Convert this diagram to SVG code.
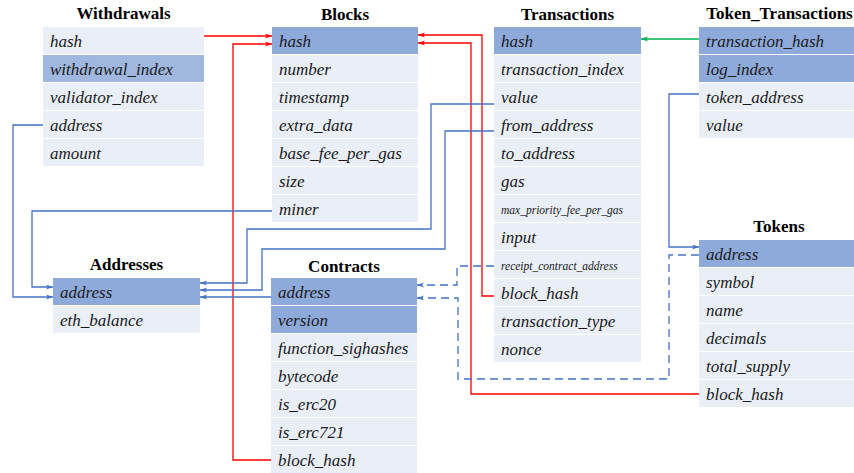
<svg xmlns="http://www.w3.org/2000/svg" width="854" height="473" viewBox="0 0 854 473">
<style>
.bg{fill:#ffffff}
.r{fill:#E9EEF7}
.k{fill:#8EAADB}
.k2{fill:#A0B7E0}
.t{font-family:'Liberation Serif','Times New Roman',serif;font-style:italic;font-size:17px;fill:#1a1a1a}
.s{font-size:11.5px}
.h{font-family:'Liberation Serif','Times New Roman',serif;font-weight:bold;font-size:17px;fill:#000;text-anchor:middle}
.red{fill:none;stroke:#FF0000;stroke-width:1.3}
.blu{fill:none;stroke:#4472C4;stroke-width:1.3}
.grn{fill:none;stroke:#00B050;stroke-width:1.3}
.dash{stroke-dasharray:8 5}
</style>
<defs>
<marker id="aR" markerUnits="userSpaceOnUse" markerWidth="8" markerHeight="6" refX="7" refY="2.5" orient="auto"><path d="M0,0 L7,2.5 L0,5 L1.8,2.5 z" fill="#FF0000"/></marker>
<marker id="aB" markerUnits="userSpaceOnUse" markerWidth="8" markerHeight="6" refX="7" refY="2.5" orient="auto"><path d="M0,0 L7,2.5 L0,5 L1.8,2.5 z" fill="#4472C4"/></marker>
<marker id="aG" markerUnits="userSpaceOnUse" markerWidth="8" markerHeight="6" refX="7" refY="2.5" orient="auto"><path d="M0,0 L7,2.5 L0,5 L1.8,2.5 z" fill="#00B050"/></marker>
</defs>
<rect class="bg" x="0" y="0" width="854" height="473"/>

<g id="withdrawals">
<text class="h" x="123.5" y="19">Withdrawals</text>
<rect class="r" x="43" y="27" width="161" height="27"/>
<rect class="k2" x="43" y="55" width="161" height="27"/>
<rect class="r" x="43" y="83" width="161" height="27"/>
<rect class="r" x="43" y="111" width="161" height="27"/>
<rect class="r" x="43" y="139" width="161" height="27"/>
<text class="t" x="50" y="46.5">hash</text>
<text class="t" x="50" y="74.5">withdrawal_index</text>
<text class="t" x="50" y="102.5">validator_index</text>
<text class="t" x="50" y="130.5">address</text>
<text class="t" x="50" y="158.5">amount</text>
</g>

<g id="blocks">
<text class="h" x="345" y="20">Blocks</text>
<rect class="k" x="272" y="27" width="146" height="27"/>
<rect class="r" x="272" y="55" width="146" height="27"/>
<rect class="r" x="272" y="83" width="146" height="27"/>
<rect class="r" x="272" y="111" width="146" height="27"/>
<rect class="r" x="272" y="139" width="146" height="27"/>
<rect class="r" x="272" y="167" width="146" height="27"/>
<rect class="r" x="272" y="195" width="146" height="27"/>
<text class="t" x="279" y="46.5">hash</text>
<text class="t" x="279" y="74.5">number</text>
<text class="t" x="279" y="102.5">timestamp</text>
<text class="t" x="279" y="130.5">extra_data</text>
<text class="t" x="279" y="158.5">base_fee_per_gas</text>
<text class="t" x="279" y="186.5">size</text>
<text class="t" x="279" y="214.5">miner</text>
</g>

<g id="transactions">
<text class="h" x="567.5" y="20">Transactions</text>
<rect class="k" x="494" y="27" width="147" height="27"/>
<rect class="r" x="494" y="55" width="147" height="27"/>
<rect class="r" x="494" y="83" width="147" height="27"/>
<rect class="r" x="494" y="111" width="147" height="27"/>
<rect class="r" x="494" y="139" width="147" height="27"/>
<rect class="r" x="494" y="167" width="147" height="27"/>
<rect class="r" x="494" y="195" width="147" height="27"/>
<rect class="r" x="494" y="223" width="147" height="27"/>
<rect class="r" x="494" y="251" width="147" height="27"/>
<rect class="r" x="494" y="279" width="147" height="27"/>
<rect class="r" x="494" y="307" width="147" height="27"/>
<rect class="r" x="494" y="335" width="147" height="27"/>
<text class="t" x="501" y="46.5">hash</text>
<text class="t" x="501" y="74.5">transaction_index</text>
<text class="t" x="501" y="102.5">value</text>
<text class="t" x="501" y="130.5">from_address</text>
<text class="t" x="501" y="158.5">to_address</text>
<text class="t" x="501" y="186.5">gas</text>
<text class="t s" x="501" y="213.5">max_priority_fee_per_gas</text>
<text class="t" x="501" y="242.5">input</text>
<text class="t s" x="501" y="269.5">receipt_contract_address</text>
<text class="t" x="501" y="298.5">block_hash</text>
<text class="t" x="501" y="326.5">transaction_type</text>
<text class="t" x="501" y="354.5">nonce</text>
</g>

<g id="token_transactions">
<text class="h" x="779.5" y="19">Token_Transactions</text>
<rect class="k" x="699" y="27" width="161" height="27"/>
<rect class="k" x="699" y="55" width="161" height="27"/>
<rect class="r" x="699" y="83" width="161" height="27"/>
<rect class="r" x="699" y="111" width="161" height="27"/>
<text class="t" x="706" y="46.5">transaction_hash</text>
<text class="t" x="706" y="74.5">log_index</text>
<text class="t" x="706" y="102.5">token_address</text>
<text class="t" x="706" y="130.5">value</text>
</g>

<g id="tokens">
<text class="h" x="779" y="232">Tokens</text>
<rect class="k" x="699" y="240" width="161" height="27"/>
<rect class="r" x="699" y="268" width="161" height="27"/>
<rect class="r" x="699" y="296" width="161" height="27"/>
<rect class="r" x="699" y="324" width="161" height="27"/>
<rect class="r" x="699" y="352" width="161" height="27"/>
<rect class="r" x="699" y="380" width="161" height="27"/>
<text class="t" x="706" y="259.5">address</text>
<text class="t" x="706" y="287.5">symbol</text>
<text class="t" x="706" y="315.5">name</text>
<text class="t" x="706" y="343.5">decimals</text>
<text class="t" x="706" y="371.5">total_supply</text>
<text class="t" x="706" y="399.5">block_hash</text>
</g>

<g id="addresses">
<text class="h" x="126.5" y="270">Addresses</text>
<rect class="k" x="53" y="278" width="147" height="27"/>
<rect class="r" x="53" y="306" width="147" height="27"/>
<text class="t" x="60" y="297.5">address</text>
<text class="t" x="60" y="325.5">eth_balance</text>
</g>

<g id="contracts">
<text class="h" x="344" y="272">Contracts</text>
<rect class="k" x="271" y="278" width="146" height="27"/>
<rect class="k" x="271" y="306" width="146" height="27"/>
<rect class="r" x="271" y="334" width="146" height="27"/>
<rect class="r" x="271" y="362" width="146" height="27"/>
<rect class="r" x="271" y="390" width="146" height="27"/>
<rect class="r" x="271" y="418" width="146" height="27"/>
<rect class="r" x="271" y="446" width="146" height="27"/>
<text class="t" x="278" y="297.5">address</text>
<text class="t" x="278" y="325.5">version</text>
<text class="t" x="278" y="353.5">function_sighashes</text>
<text class="t" x="278" y="381.5">bytecode</text>
<text class="t" x="278" y="409.5">is_erc20</text>
<text class="t" x="278" y="437.5">is_erc721</text>
<text class="t" x="278" y="465.5">block_hash</text>
</g>

<g id="connectors">
<path class="red" d="M204,36 H272" marker-end="url(#aR)"/>
<path class="red" d="M271,460 H233 V44 H272" marker-end="url(#aR)"/>
<path class="red" d="M494,296 H482 V35 H418" marker-end="url(#aR)"/>
<path class="red" d="M699,394 H471 V43 H418" marker-end="url(#aR)"/>
<path class="grn" d="M699,39 H641" marker-end="url(#aG)"/>
<path class="blu" d="M43,125 H13 V297 H53" marker-end="url(#aB)"/>
<path class="blu" d="M272,211 H32 V287 H53" marker-end="url(#aB)"/>
<path class="blu" d="M494,104 H431 V229 H247 V283 H200" marker-end="url(#aB)"/>
<path class="blu" d="M494,131 H445 V249 H262 V290 H200" marker-end="url(#aB)"/>
<path class="blu" d="M271,297 H200" marker-end="url(#aB)"/>
<path class="blu" d="M699,94 H669 V247 H699" marker-end="url(#aB)"/>
<path class="blu dash" d="M494,266 H457 V285 H417" marker-end="url(#aB)"/>
<path class="blu dash" d="M699,255 H669 V379 H458 V298 H417" marker-end="url(#aB)"/>
</g>
</svg>
